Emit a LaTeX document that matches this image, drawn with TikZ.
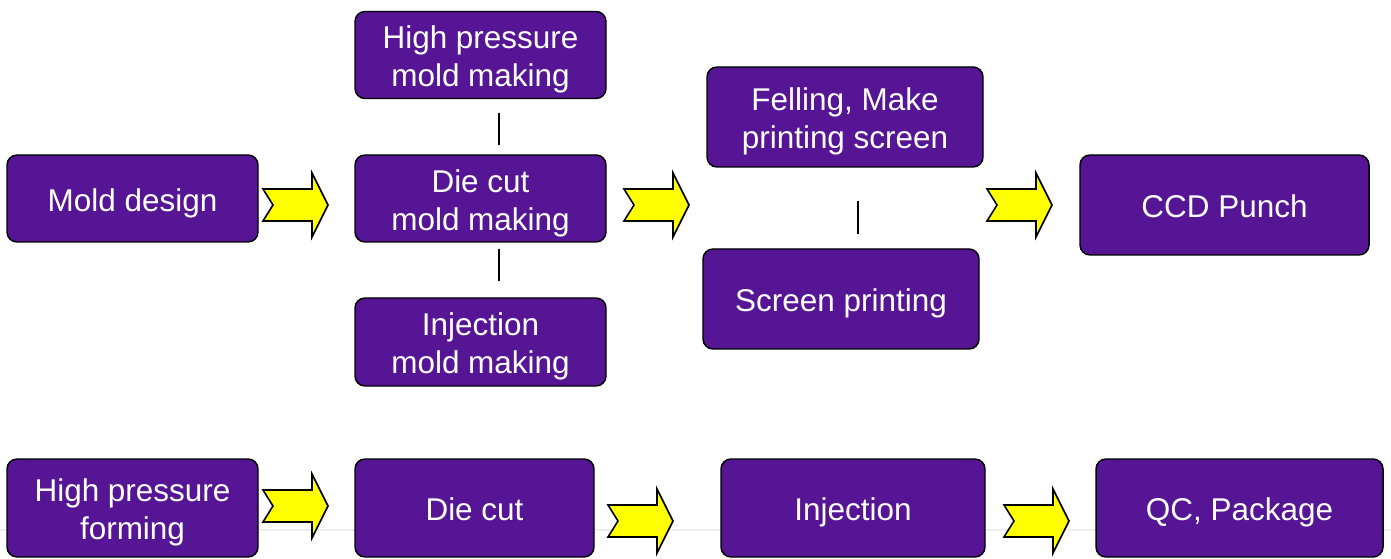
\documentclass[tikz,border=0pt]{standalone}
\usepackage{fontspec}
\setmainfont{Liberation Sans}
\definecolor{boxpurple}{HTML}{551594}
\definecolor{chevyellow}{HTML}{FFFF00}
\begin{document}
\begin{tikzpicture}[x=0.75pt,y=-0.75pt,
  stepbox/.style={draw=black,line width=1.1pt,fill=boxpurple,rounded corners=7.5pt,inner sep=0pt},
  lbltxt/.style={text=white,align=center,inner sep=0pt,yshift=-3.6pt,
    font=\fontsize{23.6}{28.5}\selectfont},
  txt/.style={label={[lbltxt]center:{#1}}},
  txtone/.style={label={[lbltxt,text height=17.2pt,text depth=5pt]center:{#1}}},
  link/.style={draw=black,line width=1.4pt},
  chevron/.pic={\draw[fill=chevyellow,draw=black,line width=1.2pt,line join=miter]
    (0,-16)--(49,-16)--(49,-32)--(65,0)--(49,32)--(49,16)--(0,16)--(10,0)--cycle;}
]
\useasboundingbox (0,0) rectangle (1391,559);
\draw[black!7,line width=1.5pt] (0,530) -- (1391,530);
% top area
\node[stepbox,txtone={Mold design},minimum width=251*0.75pt,minimum height=87*0.75pt] (mold) at (132.5,198.5) {};
\node[stepbox,txt={High pressure\\mold making},minimum width=251*0.75pt,minimum height=87*0.75pt] (hpm) at (480.5,55) {};
\node[stepbox,txt={Die cut\\mold making},minimum width=251*0.75pt,minimum height=87*0.75pt] (dcm) at (480.5,198.5) {};
\node[stepbox,txt={Injection\\mold making},minimum width=251*0.75pt,minimum height=88*0.75pt] (injm) at (480.5,342) {};
\node[stepbox,txt={Felling, Make\\printing screen},minimum width=276*0.75pt,minimum height=100*0.75pt] (fell) at (845,117) {};
\node[stepbox,txtone={Screen printing},minimum width=276*0.75pt,minimum height=100*0.75pt] (scr) at (841,299) {};
\node[stepbox,txtone={CCD Punch},minimum width=289*0.75pt,minimum height=100*0.75pt] (ccd) at (1224.5,205) {};
% bottom row
\node[stepbox,txt={High pressure\\forming},minimum width=251*0.75pt,minimum height=98*0.75pt] (hpf) at (132.5,508) {};
\node[stepbox,txtone={Die cut},minimum width=239*0.75pt,minimum height=98*0.75pt] (dc) at (474.5,508) {};
\node[stepbox,txtone={Injection},minimum width=264*0.75pt,minimum height=98*0.75pt] (inj) at (853,508) {};
\node[stepbox,txtone={QC, Package},minimum width=287*0.75pt,minimum height=98*0.75pt] (qc) at (1239.5,508) {};
% vertical links
\coordinate (l1a) at (499,113); \coordinate (l1b) at (499,145);
\coordinate (l2a) at (499,249); \coordinate (l2b) at (499,281);
\coordinate (l3a) at (858,201); \coordinate (l3b) at (858,234);
\draw[link] (l1a) -- (l1b);
\draw[link] (l2a) -- (l2b);
\draw[link] (l3a) -- (l3b);
% chevron arrows
\pic at (263,205) {chevron};
\pic at (624,205) {chevron};
\pic at (987,205) {chevron};
\pic at (263,506) {chevron};
\pic at (608,521) {chevron};
\pic at (1004,521) {chevron};
\end{tikzpicture}
\end{document}
